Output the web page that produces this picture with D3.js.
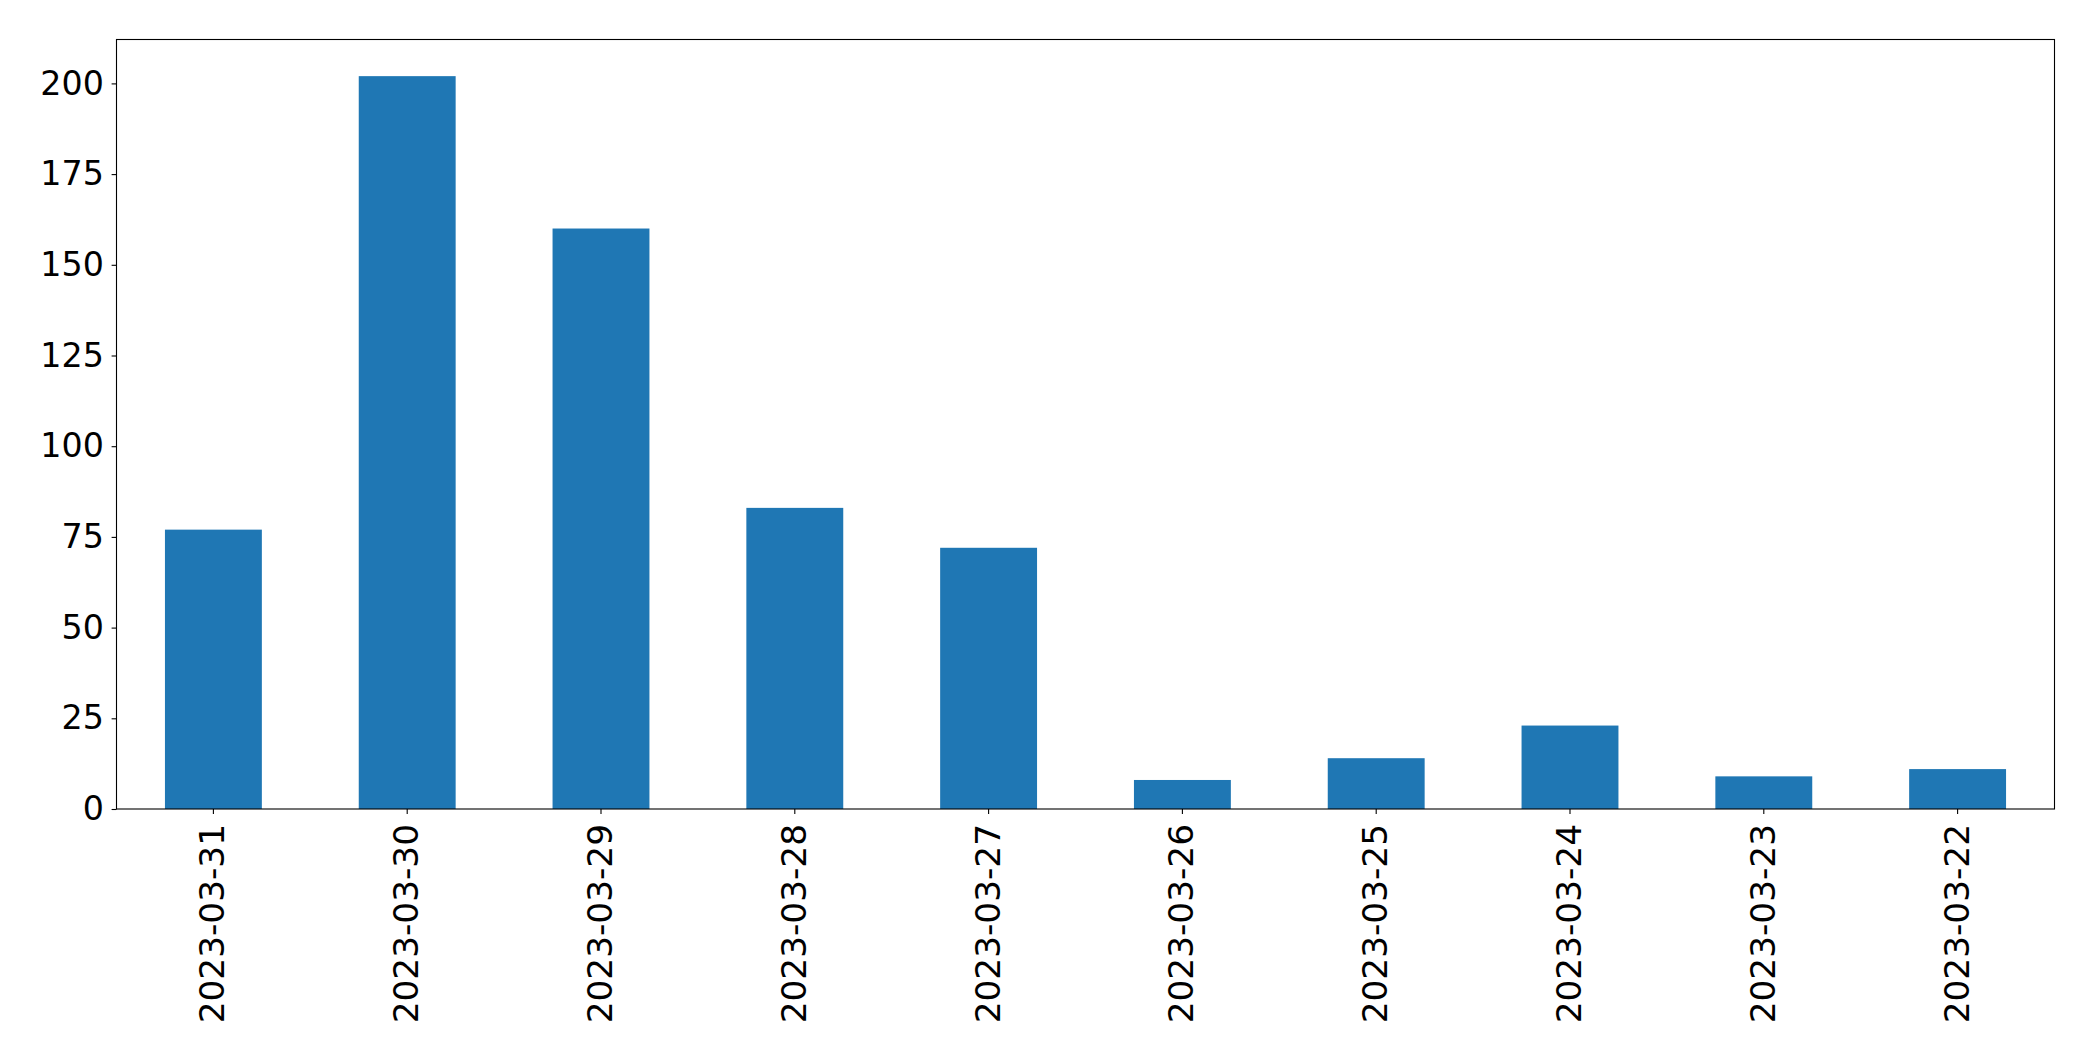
<!DOCTYPE html>
<html>
<head>
<meta charset="utf-8">
<script src="https://cdn.jsdelivr.net/npm/d3@7"></script>
<style>
  body { margin: 0; background: #fff; }
  text { font-family: "DejaVu Sans", sans-serif; }
</style>
</head>
<body>
<svg class="chart" width="2093" height="1061"></svg>
<script>
var dates = ["2023-03-31", "2023-03-30", "2023-03-29", "2023-03-28", "2023-03-27",
  "2023-03-26", "2023-03-25", "2023-03-24", "2023-03-23", "2023-03-22"];
var counts = [77, 202, 160, 83, 72, 8, 14, 23, 9, 11];
var yTicks = [0, 25, 50, 75, 100, 125, 150, 175, 200];

var svg = d3.select(".chart"),
  margin = { top: 39.5, right: 38.5, bottom: 252, left: 116.5 },
  width = +svg.attr("width") - margin.left - margin.right,
  height = +svg.attr("height") - margin.top - margin.bottom,
  g = svg.append("g")
    .attr("transform", "translate(" + margin.left + "," + margin.top + ")");

var x = d3.scaleBand()
  .domain(dates)
  .range([0, width])
  .paddingInner(0.5)
  .paddingOuter(0.25);

var y = d3.scaleLinear()
  .domain([0, d3.max(counts) * 1.05])
  .range([height, 0]);

var fs = 33.3, tick = 4.9;

g.selectAll("rect.bar")
  .data(counts)
  .enter()
  .append("rect")
  .attr("class", "bar")
  .attr("x", function (d, i) { return x(dates[i]); })
  .attr("y", function (d) { return y(d); })
  .attr("width", x.bandwidth())
  .attr("height", function (d) { return height - y(d); })
  .attr("fill", "#1f77b4");

// y axis
var yAxis = g.append("g")
  .call(d3.axisLeft(y).tickValues(yTicks).tickSize(tick).tickPadding(7.7).tickSizeOuter(0));
yAxis.select(".domain").remove();
yAxis.selectAll("line").attr("stroke", "#000").attr("stroke-width", 1.1);
yAxis.selectAll("text")
  .attr("font-size", fs)
  .attr("font-family", "DejaVu Sans")
  .attr("fill", "#000");

// x axis, labels turned upright
var xAxis = g.append("g")
  .attr("transform", "translate(0," + height + ")")
  .call(d3.axisBottom(x).tickSize(tick).tickSizeOuter(0));
xAxis.select(".domain").remove();
xAxis.selectAll("line").attr("stroke", "#000").attr("stroke-width", 1.1);
xAxis.selectAll("text")
  .attr("font-size", fs)
  .attr("font-family", "DejaVu Sans")
  .attr("fill", "#000")
  .attr("text-anchor", "end")
  .attr("transform", "rotate(-90)")
  .attr("x", -15)
  .attr("y", 0)
  .attr("dy", "0.33em")
  .each(function () {
    var len = this.getComputedTextLength();
    d3.select(this).attr("textLength", len * 1.03).attr("lengthAdjust", "spacingAndGlyphs");
  });

// frame
g.append("rect")
  .attr("width", width)
  .attr("height", height)
  .attr("fill", "none")
  .attr("stroke", "#000")
  .attr("stroke-width", 1.1);
</script>
</body>
</html>
